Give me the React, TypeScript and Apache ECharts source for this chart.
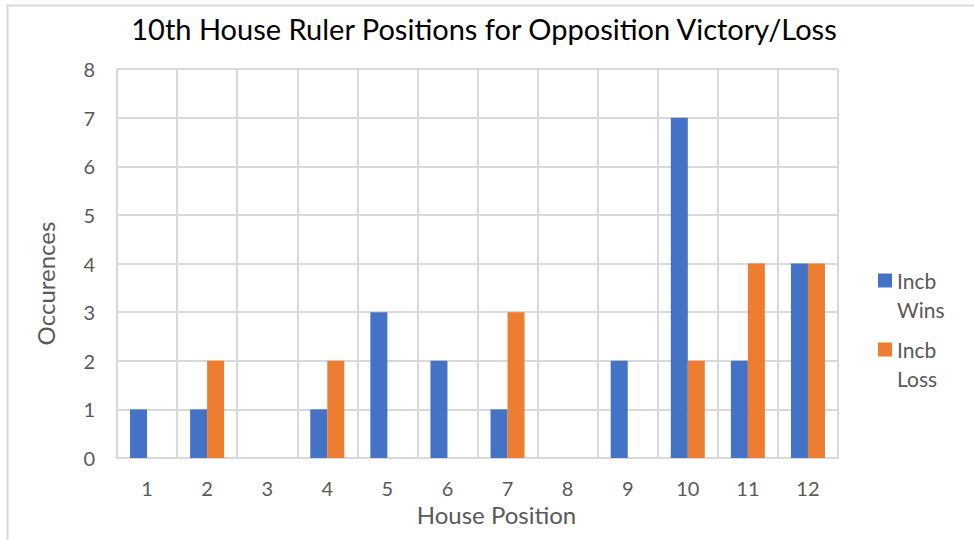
import React, { useEffect, useRef } from "react";
import * as echarts from "echarts";

const categories = ["1", "2", "3", "4", "5", "6", "7", "8", "9", "10", "11", "12"];
const winsValues = [1, 1, 0, 1, 3, 2, 1, 0, 2, 7, 2, 4];
const lossValues = [0, 2, 0, 2, 0, 0, 3, 0, 0, 2, 4, 4];
const seriesNames = ["Incb Wins", "Incb Loss"];
const legendLabels: Record<string, string> = { "Incb Wins": "\nIncb\nWins", "Incb Loss": "\nIncb\nLoss" };

const FONT = "Lato, 'Open Sans', sans-serif";
const GREY = "#595959";

export default function App() {
  const ref = useRef<HTMLDivElement>(null);
  useEffect(() => {
    if (!ref.current) return;
    const chart = echarts.init(ref.current, undefined, { renderer: "svg" });
    const legendCommon = {
      orient: "vertical",
      left: 878,
      padding: 0,
      itemWidth: 14,
      itemHeight: 14,
      icon: "rect",
      formatter: (name: string) => legendLabels[name] ?? name,
      textStyle: { fontFamily: FONT, fontSize: 21, color: GREY, lineHeight: 29 },
    };
    chart.setOption({
      animation: false,
      backgroundColor: "#ffffff",
      textStyle: { fontFamily: FONT },
      title: {
        text: "10th House Ruler Positions for Opposition Victory/Loss",
        left: 479,
        textAlign: "center",
        top: 9,
        textStyle: { fontFamily: FONT, fontSize: 29, fontWeight: "normal", color: "#000000" },
      },
      graphic: [
        {
          type: "rect",
          shape: { x: 7.5, y: 5.5, width: 1000, height: 600 },
          style: { fill: "none", stroke: "#d9d9d9", lineWidth: 2 },
          silent: true,
        },
      ],
      legend: [
        { ...legendCommon, top: 237, data: [seriesNames[0]] },
        { ...legendCommon, top: 306, data: [seriesNames[1]] },
      ],
      grid: { left: 117, top: 69, right: 136, bottom: 82, containLabel: false },
      xAxis: {
        type: "category",
        data: categories,
        name: "House Position",
        nameLocation: "middle",
        nameGap: 44,
        nameTextStyle: { fontFamily: FONT, fontSize: 24, color: GREY, padding: [0, 0, 0, 38] },
        axisLine: { show: true, lineStyle: { color: "#d9d9d9", width: 2 } },
        axisTick: { show: false },
        axisLabel: { fontFamily: FONT, fontSize: 20, color: GREY, margin: 20 },
        splitLine: { show: true, interval: 0, lineStyle: { color: "#d9d9d9", width: 2 } },
      },
      yAxis: {
        type: "value",
        min: 0,
        max: 8,
        interval: 1,
        name: "Occurences",
        nameLocation: "middle",
        nameGap: 60,
        nameTextStyle: { fontFamily: FONT, fontSize: 24, color: GREY, padding: [0, 40, 0, 0] },
        axisLine: { show: false },
        axisTick: { show: false },
        axisLabel: { fontFamily: FONT, fontSize: 20, color: GREY, margin: 22 },
        splitLine: { show: true, lineStyle: { color: "#d9d9d9", width: 2 } },
      },
      series: [
        {
          name: seriesNames[0],
          type: "bar",
          data: winsValues,
          barWidth: 17,
          barGap: "0%",
          itemStyle: { color: "#4472c4" },
        },
        {
          name: seriesNames[1],
          type: "bar",
          data: lossValues,
          barWidth: 17,
          barGap: "0%",
          itemStyle: { color: "#ed7d31" },
        },
      ],
    });
    return () => chart.dispose();
  }, []);
  return <div ref={ref} style={{ position: "fixed", left: 0, top: 0, width: 974, height: 540 }} />;
}
